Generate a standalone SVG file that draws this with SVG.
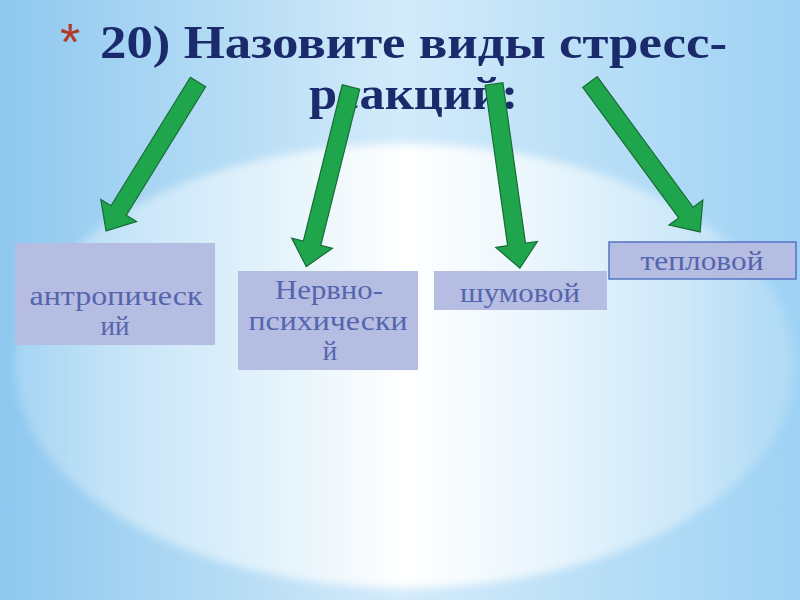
<svg xmlns="http://www.w3.org/2000/svg" width="800" height="600" viewBox="0 0 800 600">
<defs>
<linearGradient id="bg" x1="0" y1="0" x2="1" y2="0">
<stop offset="0" stop-color="#8ec8ef"/>
<stop offset="0.5" stop-color="#d3ebfa"/>
<stop offset="1" stop-color="#9ed2f4"/>
</linearGradient>
<linearGradient id="glowfill" x1="0" y1="0" x2="1" y2="0">
<stop offset="0" stop-color="#c2e3f8" stop-opacity="0.4"/>
<stop offset="0.15" stop-color="#cfe9f9" stop-opacity="0.85"/>
<stop offset="0.35" stop-color="#e6f4fc"/>
<stop offset="0.5" stop-color="#ffffff"/>
<stop offset="0.65" stop-color="#edf7fd"/>
<stop offset="0.85" stop-color="#d4ecfa" stop-opacity="0.85"/>
<stop offset="1" stop-color="#c2e3f8" stop-opacity="0.4"/>
</linearGradient>
<filter id="soft" x="-10%" y="-10%" width="120%" height="120%">
<feGaussianBlur stdDeviation="4"/>
</filter>
<style>
.title{font-family:"Liberation Serif","DejaVu Serif",serif;font-weight:bold;font-size:46px;fill:#1b2a6b}
.box{fill:#b5bde2}
.lbl{font-family:"Liberation Serif","DejaVu Serif",serif;font-size:27px;fill:#5565ad;text-anchor:middle}
.arrow{fill:#1fa64d;stroke:#176b35;stroke-width:1.2;stroke-linejoin:miter}
</style>
</defs>
<rect width="800" height="600" fill="url(#bg)"/>
<ellipse cx="405" cy="366" rx="390" ry="222" fill="url(#glowfill)" filter="url(#soft)"/>

<g id="title">
<text x="60" y="60" style="font-family:'Liberation Sans',sans-serif;font-size:52px;fill:#b23a2a">*</text>
<text class="title" x="100" y="58" textLength="627" lengthAdjust="spacingAndGlyphs">20) Назовите виды стресс-</text>
<text class="title" x="309" y="109" textLength="209" lengthAdjust="spacingAndGlyphs">реакций:</text>
</g>

<g id="connectors">
<polygon class="arrow" transform="translate(198,82) rotate(121.7)" points="0,-9 151,-9 151,-21 175,0 151,21 151,9 0,9"/>
<polygon class="arrow" transform="translate(351,87) rotate(104)" points="0,-9 161,-9 161,-21 185,0 161,21 161,9 0,9"/>
<polygon class="arrow" transform="translate(494,84) rotate(82)" points="0,-9 162,-9 162,-21 186,0 162,21 162,9 0,9"/>
<polygon class="arrow" transform="translate(590,82) rotate(53.7)" points="0,-9 162,-9 162,-21 186,0 162,21 162,9 0,9"/>
</g>

<g id="node-antropic">
<rect class="box" x="15" y="243" width="200" height="102"/>
<text class="lbl" x="116" y="305" textLength="173" lengthAdjust="spacingAndGlyphs">антропическ</text>
<text class="lbl" x="115" y="335">ий</text>
</g>
<g id="node-nervno">
<rect class="box" x="238" y="271" width="180" height="99"/>
<text class="lbl" x="329" y="299" textLength="108" lengthAdjust="spacingAndGlyphs">Нервно-</text>
<text class="lbl" x="328" y="330" textLength="159" lengthAdjust="spacingAndGlyphs">психически</text>
<text class="lbl" x="330" y="360">й</text>
</g>
<g id="node-shum">
<rect class="box" x="434" y="271" width="173" height="39"/>
<text class="lbl" x="520" y="302" textLength="120" lengthAdjust="spacingAndGlyphs">шумовой</text>
</g>
<g id="node-teplo">
<rect class="box" x="609" y="242" width="187" height="37" stroke="#5573c4" stroke-width="1.5"/>
<text class="lbl" x="702" y="270" textLength="123" lengthAdjust="spacingAndGlyphs">тепловой</text>
</g>
</svg>
